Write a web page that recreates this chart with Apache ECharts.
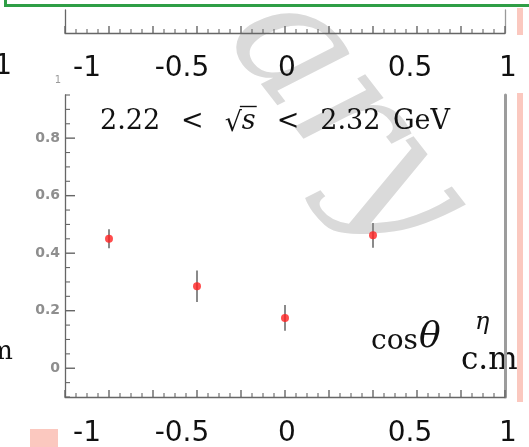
<!DOCTYPE html>
<html><head><meta charset="utf-8">
<script src="https://cdn.jsdelivr.net/npm/echarts@6/dist/echarts.min.js"></script>
<style>html,body{margin:0;padding:0;background:#fff}#c{width:529px;height:447px}</style>
</head><body><div id="c"></div>
<script>
// ---- data ----
const cosTheta = [-0.8, -0.4, 0.0, 0.4];
const dsigma   = [0.450, 0.285, 0.175, 0.462];
const dsigmaErr = [0.033, 0.055, 0.045, 0.043];
const xTickLabels = [-1, -0.5, 0, 0.5, 1];
const yTickLabels = [0, 0.2, 0.4, 0.6, 0.8];
const energyLabelParts = ['2.22', '<', '√', 's', '<', '2.32', 'GeV'];
const axisTitleParts = ['cos', 'θ', 'η', 'c.m'];

// tick marks (x: major every 0.2, minor every 0.05; y: major every 0.2, minor every 0.05)
const xMajorTicks = [], xMinorTicks = [], yMajorTicks = [], yMinorTicks = [];
for (let k = -20; k <= 20; k++) { (k % 4 === 0 ? xMajorTicks : xMinorTicks).push(k / 20); }
for (let k = -2; k <= 19; k++) { (k % 4 === 0 ? yMajorTicks : yMinorTicks).push(k / 20); }

// ---- style ----
const axisGray = '#666666';
const labelFont = '"DejaVu Sans", sans-serif';
const serif = '"DejaVu Serif", serif';
const xLabelShift = [22, 7, 2, 15, 3];
const rich = {};
xLabelShift.forEach((s, i) => { rich['s' + i] = { padding: [0, 0, 0, 2 * s], fontSize: 28, fontFamily: labelFont, color: '#111' }; });
function xFmt(v) {
  const i = xTickLabels.indexOf(Math.round(v * 100) / 100);
  return i < 0 ? '' : '{s' + i + '|' + String(xTickLabels[i]) + '}';
}

function xAxisCfg(gi, margin) {
  return {
    gridIndex: gi, type: 'value', min: -1, max: 1, interval: 0.2,
    axisLine: { show: true, onZero: false, lineStyle: { color: axisGray, width: 1.3 } },
    axisTick: { show: false }, minorTick: { show: false }, splitLine: { show: false },
    axisLabel: { show: true, customValues: xTickLabels, margin: margin, formatter: xFmt, rich: rich,
      fontSize: 28, fontFamily: labelFont, color: '#111' }
  };
}

// ticks drawn as small rectangles through the axes' own scales
function tickMarks(xi, yi, data, size, offset) {
  return { type: 'scatter', xAxisIndex: xi, yAxisIndex: yi, symbol: 'rect',
    symbolSize: size, symbolOffset: offset, clip: false, silent: true, z: 5,
    itemStyle: { color: axisGray, opacity: 1 }, emphasis: { disabled: true },
    data: data };
}
const tickSeries = [
  tickMarks(0, 0, xMajorTicks.map(v => [v, 0]), [1.4, 7], [0, -3.5]),
  tickMarks(0, 0, xMinorTicks.map(v => [v, 0]), [1.1, 4], [0, -2]),
  tickMarks(1, 2, xMajorTicks.map(v => [v, -0.1]), [1.4, 7], [0, -3.5]),
  tickMarks(1, 2, xMinorTicks.map(v => [v, -0.1]), [1.1, 4], [0, -2]),
  tickMarks(1, 2, yMajorTicks.map(v => [-1, v]), [10, 1.4], [5, 0]),
  tickMarks(1, 2, yMinorTicks.map(v => [-1, v]), [5, 1.1], [2.5, 0])
];

const txt = (x, y, text, font, align) => ({ type: 'text', x: x, y: y,
  style: { text: text, font: font, fill: '#111', textAlign: align || 'left', textVerticalAlign: 'middle' } });

// lay out the energy-bin label pieces between x=100 and x=450
const mctx = document.createElement('canvas').getContext('2d');
const eFonts = ['27px ', '27px ', '27px ', 'italic 27px ', '27px ', '27px ', '27px '].map(f => f + serif);
const eGapW = [1, 1, 0, 1, 1, 0.6, 0];
const eW = energyLabelParts.map((t, i) => { mctx.font = eFonts[i]; return mctx.measureText(t).width; });
const eTotal = eW.reduce((a, b) => a + b, 0);
const eGap = (350 - eTotal) / eGapW.reduce((a, b) => a + b, 0);
const energyGraphics = [];
let ex = 100, sStart = 0, sEnd = 0;
energyLabelParts.forEach((t, i) => {
  energyGraphics.push(txt(ex, i === 2 ? 124 : 122, t, eFonts[i]));
  if (i === 3) { sStart = ex - 2; sEnd = ex + eW[i] + 1; }
  ex += eW[i] + eGap * eGapW[i];
});
energyGraphics.push({ type: 'line', shape: { x1: sStart, y1: 106.5, x2: sEnd, y2: 106.5 }, style: { stroke: '#111', lineWidth: 1.4 } });

const chart = echarts.init(document.getElementById('c'));
chart.setOption({
  animation: false,
  backgroundColor: '#fff',
  grid: [
    { left: 65, width: 440, top: 10, height: 23, containLabel: false, outerBoundsMode: 'none' },
    { left: 65, width: 440, top: 95, height: 302, containLabel: false, outerBoundsMode: 'none' }
  ],
  xAxis: [ xAxisCfg(0, 22), xAxisCfg(1, 23) ],
  yAxis: [
    { gridIndex: 0, type: 'value', min: 0, max: 1, position: 'left',
      axisLine: { show: true, onZero: false, lineStyle: { color: axisGray, width: 1.3 } },
      axisTick: { show: false }, axisLabel: { show: false }, splitLine: { show: false } },
    { gridIndex: 0, type: 'value', min: 0, max: 1, position: 'right',
      axisLine: { show: true, onZero: false, lineStyle: { color: '#9a9a9a', width: 1.3 } },
      axisTick: { show: false }, axisLabel: { show: false }, splitLine: { show: false } },
    { gridIndex: 1, type: 'value', min: -0.1, max: 0.95, position: 'left',
      axisLine: { show: true, onZero: false, lineStyle: { color: axisGray, width: 1.3 } },
      axisTick: { show: false }, minorTick: { show: false },
      axisLabel: { show: true, customValues: yTickLabels, margin: 5, fontSize: 14, fontWeight: 'bold',
        fontFamily: labelFont, color: '#8e8e8e', formatter: v => String(v) },
      splitLine: { show: false } },
    { gridIndex: 1, type: 'value', min: -0.1, max: 0.95, position: 'right',
      axisLine: { show: true, onZero: false, lineStyle: { color: '#9c9c9c', width: 3 } },
      axisTick: { show: false }, axisLabel: { show: false }, splitLine: { show: false } }
  ],
  graphic: [
    // watermark
    { type: 'text', z: -10, x: 345, y: 120, rotation: -52 * Math.PI / 180,
      style: { text: 'ary', font: 'italic 170px "DejaVu Serif", serif', fill: '#dadada',
        textAlign: 'center', textVerticalAlign: 'middle' } },
    // green frame of panel above
    { type: 'rect', shape: { x: 4, y: 4, width: 525, height: 3 }, style: { fill: '#2f9e46' } },
    { type: 'rect', shape: { x: 4, y: 0, width: 3, height: 7 }, style: { fill: '#2f9e46' } },
    // pink fragments of neighbouring panels
    { type: 'rect', shape: { x: 517, y: 8, width: 6, height: 27 }, style: { fill: '#fbc8bf' } },
    { type: 'rect', shape: { x: 517, y: 93, width: 6, height: 309 }, style: { fill: '#fbc8bf' } },
    { type: 'rect', shape: { x: 30, y: 429, width: 28, height: 18 }, style: { fill: '#fbc8bf' } },
    // fragments of left panel labels
    txt(12, 67, '1', '28px ' + labelFont, 'right'),
    txt(13, 352, 'm', '26px ' + serif, 'right'),
    { type: 'text', x: 58, y: 80, style: { text: '1', font: '10px ' + labelFont, fill: '#9a9a9a', textAlign: 'center', textVerticalAlign: 'middle' } },
    // axis title
    txt(371, 342, axisTitleParts[0], '28px ' + serif),
    txt(419, 338, axisTitleParts[1], 'italic 36px ' + serif),
    txt(475, 323, axisTitleParts[2], 'italic 24px ' + serif),
    txt(461, 361, axisTitleParts[3], '31px ' + serif)
  ].concat(energyGraphics),
  series: tickSeries.concat([
    { type: 'custom', xAxisIndex: 1, yAxisIndex: 2, z: 3,
      data: cosTheta.map((x, i) => [x, dsigma[i] - dsigmaErr[i], dsigma[i] + dsigmaErr[i]]),
      renderItem: (params, api) => {
        const lo = api.coord([api.value(0), api.value(1)]);
        const hi = api.coord([api.value(0), api.value(2)]);
        return { type: 'line', shape: { x1: lo[0], y1: lo[1], x2: hi[0], y2: hi[1] },
          style: { stroke: '#8a8a8a', lineWidth: 2 } };
      } },
    { type: 'scatter', xAxisIndex: 1, yAxisIndex: 2, z: 4, symbol: 'circle', symbolSize: 8,
      itemStyle: { color: '#ff2020' },
      data: cosTheta.map((x, i) => [x, dsigma[i]]) }
  ])
});
</script></body></html>
